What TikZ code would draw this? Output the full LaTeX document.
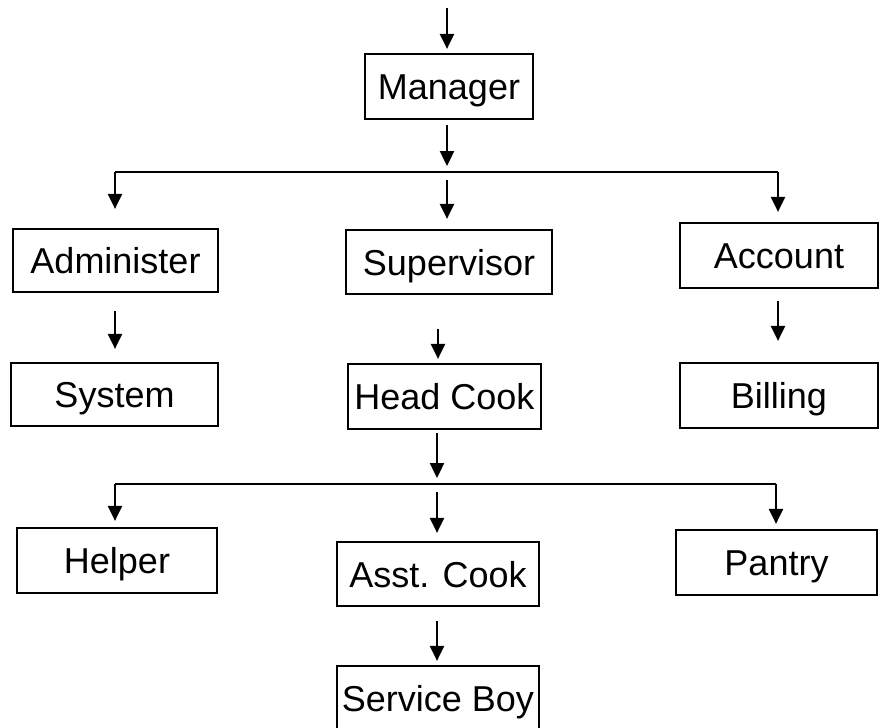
\documentclass[tikz,border=0pt]{standalone}
\usepackage{fontspec}
\setmainfont{Liberation Sans}
\usetikzlibrary{arrows.meta}
\begin{document}
\begin{tikzpicture}[x=1pt,y=-1pt,
  box/.style={draw, line width=2.2pt, inner sep=0pt, text height=26pt, text depth=0pt, font=\fontsize{36}{40}\selectfont},
  arr/.style={line width=2.4pt, -{Triangle[width=14pt,length=15pt]}},
  bus/.style={line width=2.2pt}]
\useasboundingbox (0,0) rectangle (879,728);
\clip (0,0) rectangle (879,728);
% boxes
\node[box, minimum width=168pt, minimum height=65pt] (mgr) at (449,86.5) {Manager};
\node[box, minimum width=205pt, minimum height=63pt] (adm) at (115.5,260.5) {Administer};
\node[box, minimum width=206pt, minimum height=64pt] (sup) at (449,262) {Supervisor};
\node[box, minimum width=198pt, minimum height=65pt] (acc) at (779,255.5) {Account};
\node[box, minimum width=207pt, minimum height=63pt] (sys) at (114.5,394.5) {System};
\node[box, minimum width=193pt, minimum height=65pt] (hc) at (444.5,396.5) {Head Cook};
\node[box, minimum width=198pt, minimum height=65pt] (bil) at (779,395.5) {Billing};
\node[box, minimum width=200pt, minimum height=65pt] (hlp) at (117,560.5) {Helper};
\node[box, minimum width=202pt, minimum height=64pt] (ast) at (438,574) {Asst. Cook};
\node[box, minimum width=201pt, minimum height=65pt] (pan) at (776.5,562.5) {Pantry};
\node[box, minimum width=202pt, minimum height=65pt] (svc) at (438,698.5) {Service Boy};
% bus coordinates
\coordinate (top) at (447,8);
\coordinate (b1l) at (115,172);
\coordinate (b1m) at (447,172);
\coordinate (b1r) at (778,172);
\coordinate (b2l) at (115,484);
\coordinate (b2m) at (437,484);
\coordinate (b2r) at (776,484);
% connectors
\draw[arr, shorten >=4pt] (top) -- (top |- mgr.north);
\draw[arr, shorten <=5pt, shorten >=6pt] (b1m |- mgr.south) -- (b1m);
\draw[bus] (b1l) -- (b1r);
\draw[arr, shorten <=8pt, shorten >=10pt] (b1m) -- (b1m |- sup.north);
\draw[arr, shorten >=19pt] (b1l) -- (b1l |- adm.north);
\draw[arr, shorten >=10pt] (b1r) -- (b1r |- acc.north);
\draw[arr, shorten <=18pt, shorten >=13pt] (b1l |- adm.south) -- (b1l |- sys.north);
\draw[arr, shorten <=34pt, shorten >=4pt] (sup.south -| hc.south) ++(-6.5pt,0) coordinate (s1) (s1) -- (s1 |- hc.north);
\draw[arr, shorten <=12pt, shorten >=21pt] (b1r |- acc.south) -- (b1r |- bil.north);
\draw[arr, shorten <=3pt, shorten >=6pt] (b2m |- hc.south) -- (b2m);
\draw[bus] (b2l) -- (b2r);
\draw[arr, shorten <=8pt, shorten >=8pt] (b2m) -- (b2m |- ast.north);
\draw[arr, shorten >=6pt] (b2l) -- (b2l |- hlp.north);
\draw[arr, shorten >=5pt] (b2r) -- (b2r |- pan.north);
\draw[arr, shorten <=14pt, shorten >=4pt] (b2m |- ast.south) -- (b2m |- svc.north);
\end{tikzpicture}
\end{document}
